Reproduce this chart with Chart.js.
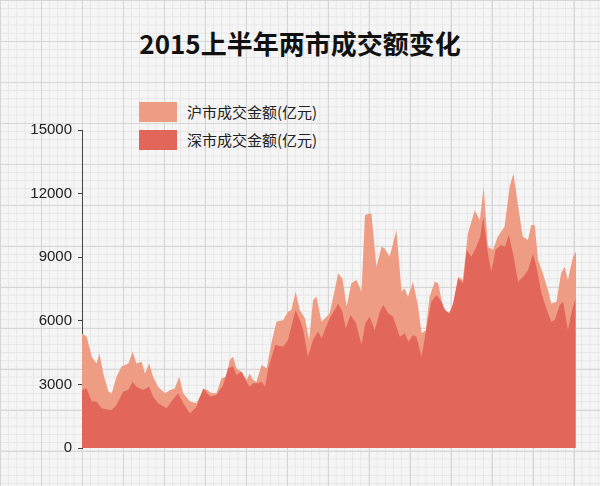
<!DOCTYPE html>
<html><head><meta charset="utf-8">
<script src="https://cdn.jsdelivr.net/npm/chart.js@4"></script>
<style>
html,body{margin:0;padding:0;width:600px;height:486px;overflow:hidden}
body{background-color:#f5f5f5;
background-image:
linear-gradient(to right,#d6d6d6 1px,transparent 1px),
linear-gradient(to bottom,#d6d6d6 1px,transparent 1px),
linear-gradient(to right,#e6e6e6 1px,transparent 1px),
linear-gradient(to bottom,#e6e6e6 1px,transparent 1px);
background-size:41px 41px,41px 41px,8.2px 8.2px,8.2px 8.2px;
background-position:0px 0px,0px 0px,0px 0px,0px 0px;
font-family:"Noto Sans CJK SC","Liberation Sans",sans-serif;position:relative}
#t{position:absolute;left:0;width:600px;top:24px;text-align:center;font-size:26px;font-weight:bold;color:#111}
.lg{position:absolute;left:139px;font-size:15px;color:#222;display:flex;align-items:center}
.lg span.b{display:inline-block;width:38px;height:20px;margin-right:10px}
canvas{position:absolute;left:0;top:0}
</style></head><body>
<div id="t">2015上半年两市成交额变化</div>
<div class="lg" style="top:101px"><span class="b" style="background:#ee9c84"></span>沪市成交金额(亿元)</div>
<div class="lg" style="top:129px"><span class="b" style="background:#e3665a"></span>深市成交金额(亿元)</div>
<canvas id="c" width="600" height="486"></canvas>
<script>
const seriesNames=["沪市成交金额(亿元)","深市成交金额(亿元)"];
const yTicks=[0,3000,6000,9000,12000,15000];
const shDay=[0,1.1,2.3,3.4,4.1,5.0,6.2,7.0,8.1,9.3,10.9,11.9,12.8,14.0,14.8,15.8,16.7,17.9,19.5,20.7,21.8,22.8,23.8,25.4,26.9,28.1,28.9,30.5,31.6,32.8,34.0,34.7,35.5,36.3,37.5,38.7,39.4,40.2,41.0,42.2,43.4,44.5,45.7,47.3,48.4,49.2,50.2,51.2,52.4,53.4,54.3,55.1,56.3,58.2,59.4,60.2,61.2,62.2,63.3,64.5,65.7,66.5,68.0,69.2,70.4,71.1,72.3,73.9,75.1,75.8,76.6,77.8,79.0,79.8,80.8,81.7,82.9,83.7,84.8,86.0,87.2,88.4,89.5,90.7,92.3,93.5,94.4,95.4,96.6,97.7,99.3,100.5,101.4,102.4,103.6,104.8,105.6,106.4,107.2,108.3,109.5,110.3,111.5,112.6,113.4,114.2,115.4,116.1];
const shVal=[5400,5250,4310,3990,4460,3520,2660,2580,3360,3840,3990,4540,3990,4070,3520,3990,3360,2890,2580,2740,2810,3360,2580,2190,2110,2580,2810,2580,2580,3290,3360,4150,4310,3760,3600,3210,3520,3210,3130,3910,3760,4940,5960,6040,6430,6510,7370,6510,6120,5090,6980,7140,5960,6350,7450,8240,8000,6670,7770,7920,7370,10990,11070,8550,9490,9420,9020,10280,7370,7530,7140,7840,6670,5410,5560,7140,7840,7770,6670,6350,6670,8080,7920,10120,11220,10750,12320,9490,9340,9970,10440,12320,12950,11540,9970,9810,10520,10520,8870,8240,7450,6820,6900,8240,8550,7920,9020,9260];
const szDay=[0,1.1,2.3,3.4,4.6,5.8,7.0,8.1,9.7,10.9,11.9,12.8,14.4,15.8,16.7,17.9,19.9,21.0,22.6,23.8,25.4,26.9,28.5,30.1,31.6,33.2,34.3,35.5,36.3,37.5,38.7,39.4,40.2,41.4,42.2,43.0,43.8,45.4,47.3,48.4,49.6,50.2,51.2,52.0,53.1,54.3,55.5,56.3,58.2,59.4,60.2,61.2,62.0,63.1,64.4,65.7,66.6,67.6,68.8,70.0,70.8,72.0,73.1,74.7,75.9,76.7,77.8,78.6,79.8,81.0,82.1,83.3,84.5,85.3,86.4,87.2,88.4,89.6,90.4,91.5,92.7,93.6,94.3,95.4,96.2,97.2,98.4,99.4,100.3,101.3,102.5,103.7,104.8,106.0,106.8,108.0,109.1,110.3,111.1,112.3,113.1,114.2,115.0,116.0];
const szVal=[2740,2810,2190,2190,1870,1820,1790,2030,2660,2740,3130,2890,2740,2890,2420,2110,1870,2190,2580,2110,1630,1950,2810,2420,2500,2970,3760,3840,3440,3600,3130,2890,3050,3050,3130,2890,3760,4860,4780,5090,6040,6510,6040,5560,4310,5090,5490,5170,6120,6510,6820,6430,5640,6270,5880,4860,5880,6190,5560,6430,6740,6350,6190,5250,5410,5010,5330,5250,4310,5720,6900,7220,6900,6510,6350,6820,8000,7770,9340,9020,9490,9970,10910,9180,8320,9340,9570,9490,10050,9180,7840,8080,8390,9180,8550,7290,6590,5960,6040,6740,6900,5560,6350,7060];
const pts=(xs,ys)=>xs.map((x,i)=>({x:x,y:ys[i]}));
new Chart(document.getElementById('c'),{
 type:'line',
 data:{datasets:[
  {label:seriesNames[0],data:pts(shDay,shVal),fill:'origin',backgroundColor:'#ee9c84',borderWidth:0,pointRadius:0,tension:0,order:2},
  {label:seriesNames[1],data:pts(szDay,szVal),fill:'origin',backgroundColor:'#e3665a',borderWidth:0,pointRadius:0,tension:0,order:1}
 ]},
 options:{responsive:false,animation:false,
  layout:{padding:{left:0,right:24,top:130,bottom:38}},
  plugins:{legend:{display:false},tooltip:{enabled:false}},
  scales:{
   x:{type:'linear',display:false,min:0,max:116.1},
   y:{min:0,max:15000,afterBuildTicks:s=>{s.ticks=yTicks.map(v=>({value:v}));},
      afterFit:s=>{s.width=82;},
      ticks:{color:'#222',font:{size:15,family:'"Liberation Sans",sans-serif'},padding:6,callback:v=>String(v)},
      grid:{drawOnChartArea:false,tickLength:4,color:'#444'},
      border:{color:'#444',width:1}}
  }}
});
</script></body></html>
